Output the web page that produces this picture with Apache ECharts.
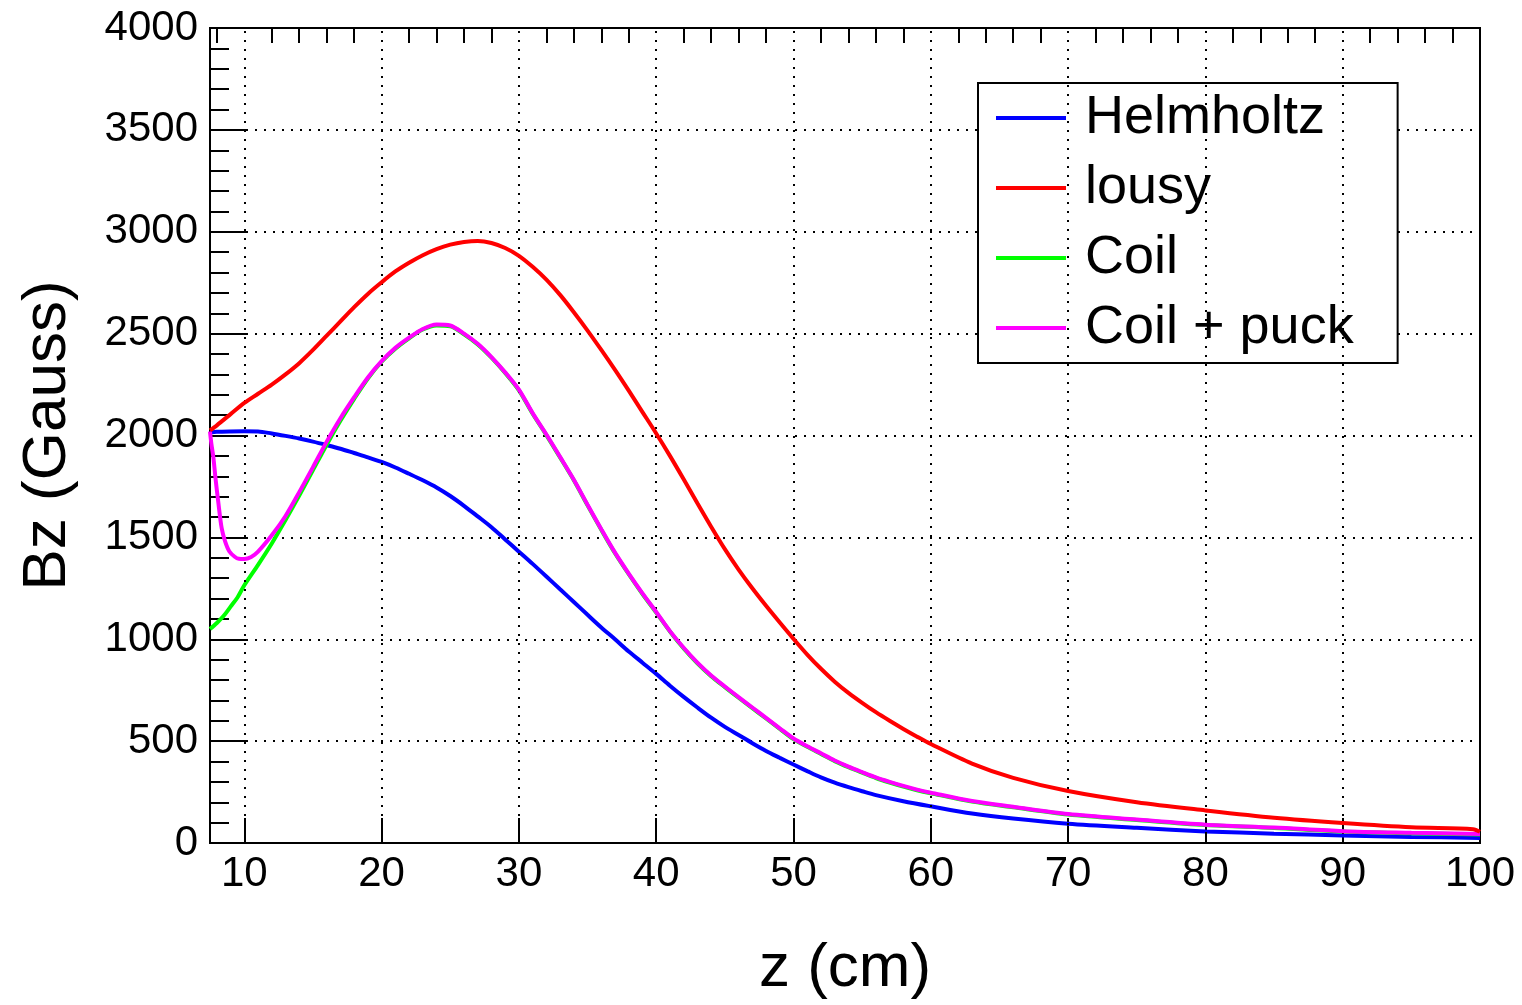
<!DOCTYPE html>
<html>
<head>
<meta charset="utf-8">
<script src="https://cdn.jsdelivr.net/npm/echarts@6/dist/echarts.min.js"></script>
<style>
html,body{margin:0;padding:0;background:#fff;}
#chart{width:1522px;height:1005px;}
</style>
</head>
<body>
<div id="chart"></div>
<script>
// ---- data ----
const seriesNames = ['Helmholtz', 'lousy', 'Coil', 'Coil + puck'];

const zHelm = [7.5, 8, 9, 10, 11, 12, 13, 14, 15, 16, 17, 18, 19, 20, 21, 22, 23, 24, 25, 26, 27, 28, 29, 30, 31, 32, 33, 34, 35, 36, 37, 38, 39, 40, 41, 42, 43, 44, 45, 46, 47, 48, 49, 50, 51, 52, 53, 54, 55, 56, 58, 60, 63, 66, 70, 75, 80, 85, 90, 95, 100];
const bzHelm = [2015, 2018, 2020, 2021, 2020, 2010, 1998, 1985, 1970, 1953, 1935, 1914, 1893, 1870, 1843, 1812, 1780, 1745, 1703, 1655, 1603, 1550, 1490, 1430, 1370, 1308, 1245, 1183, 1120, 1058, 1000, 940, 885, 830, 772, 717, 665, 615, 570, 530, 490, 452, 418, 385, 353, 322, 296, 274, 254, 235, 205, 180, 145, 120, 95, 75, 57, 46, 37, 30, 25];

const zLousy = [7.5, 8, 9, 10, 11, 12, 13, 14, 15, 16, 17, 18, 19, 20, 21, 22, 23, 24, 25, 26, 27, 28, 29, 30, 31, 32, 33, 34, 35, 36, 37, 38, 39, 40, 41, 42, 43, 44, 45, 46, 47, 48, 49, 50, 51, 52, 53, 54, 55, 56, 57, 58, 59, 60, 63, 66, 70, 75, 80, 85, 90, 95, 99.5, 100];
const bzLousy = [2025, 2050, 2105, 2160, 2205, 2250, 2300, 2355, 2420, 2490, 2560, 2630, 2695, 2752, 2805, 2848, 2885, 2915, 2937, 2950, 2955, 2945, 2920, 2882, 2828, 2765, 2690, 2605, 2515, 2420, 2322, 2220, 2115, 2010, 1900, 1785, 1667, 1552, 1442, 1342, 1250, 1164, 1082, 1002, 925, 855, 792, 737, 688, 642, 600, 560, 522, 486, 390, 320, 255, 200, 160, 124, 98, 77, 68, 55];

const zCoil = [7.5, 8, 8.5, 9, 9.5, 10, 11, 12, 13, 14, 15, 16, 17, 18, 19, 20, 21, 22, 23, 24, 25, 26, 27, 28, 29, 30, 31, 32, 33, 34, 35, 36, 37, 38, 39, 40, 41, 42, 43, 44, 45, 46, 47, 48, 49, 50, 51, 52, 53, 54, 55, 56, 57, 58, 59, 60, 63, 66, 70, 75, 80, 85, 90, 95, 100];
const bzCoil = [1050, 1080, 1115, 1160, 1205, 1265, 1365, 1470, 1585, 1705, 1830, 1955, 2072, 2180, 2280, 2362, 2426, 2477, 2520, 2540, 2536, 2497, 2447, 2382, 2307, 2222, 2107, 2002, 1892, 1780, 1657, 1537, 1422, 1319, 1222, 1131, 1038, 955, 882, 819, 765, 713, 662, 611, 560, 510, 472, 437, 402, 372, 345, 319, 297, 277, 259, 244, 203, 175, 140, 113, 88, 74, 56, 48, 42];

const zPuck = [7.5, 7.6, 7.75, 7.9, 8.1, 8.35, 8.6, 8.9, 9.3, 9.6, 10, 10.5, 11, 12, 13, 14, 15, 16, 17, 18, 19, 20, 21, 22, 23, 24, 25, 26, 27, 28, 29, 30, 31, 32, 33, 34, 35, 36, 37, 38, 39, 40, 41, 42, 43, 44, 45, 46, 47, 48, 49, 50, 51, 52, 53, 54, 55, 56, 57, 58, 59, 60, 63, 66, 70, 75, 80, 85, 90, 95, 100];
const bzPuck = [2020, 1960, 1890, 1790, 1675, 1545, 1480, 1432, 1405, 1395, 1394, 1404, 1430, 1510, 1605, 1722, 1845, 1970, 2085, 2188, 2285, 2365, 2430, 2480, 2523, 2545, 2540, 2500, 2450, 2385, 2310, 2225, 2110, 2005, 1895, 1783, 1660, 1540, 1425, 1322, 1225, 1134, 1040, 958, 885, 822, 768, 716, 665, 614, 563, 513, 475, 440, 405, 375, 348, 322, 300, 280, 262, 247, 206, 178, 142, 115, 90, 76, 58, 50, 44];

const xMajorTicks = [10, 20, 30, 40, 50, 60, 70, 80, 90, 100];
const xMinorTicks = [8, 12, 14, 16, 18, 22, 24, 26, 28, 32, 34, 36, 38, 42, 44, 46, 48, 52, 54, 56, 58, 62, 64, 66, 68, 72, 74, 76, 78, 82, 84, 86, 88, 92, 94, 96, 98];
const xGridLines = [10, 20, 30, 40, 50, 60, 70, 80, 90];

const colors = ['#0000ff', '#ff0000', '#00ff00', '#ff00ff'];
const FONT = 'Liberation Sans, Arial, Helvetica, sans-serif';

function pairs(xs, ys) { return xs.map((x, i) => [x, ys[i]]); }

const chart = echarts.init(document.getElementById('chart'), null, {renderer: 'canvas'});

const lineSeries = [
  {name: seriesNames[0], data: pairs(zHelm, bzHelm), color: colors[0], z: 3},
  {name: seriesNames[1], data: pairs(zLousy, bzLousy), color: colors[1], z: 6},
  {name: seriesNames[2], data: pairs(zCoil, bzCoil), color: colors[2], z: 4},
  {name: seriesNames[3], data: pairs(zPuck, bzPuck), color: colors[3], z: 5}
].map(s => ({
  name: s.name,
  type: 'line',
  xAxisIndex: 0,
  yAxisIndex: 0,
  data: s.data,
  showSymbol: false,
  symbol: 'none',
  smooth: 0.3,
  z: s.z,
  itemStyle: {color: s.color},
  lineStyle: {color: s.color, width: 4},
  animation: false
}));

const gridDummy = {
  name: '_grid',
  type: 'line',
  xAxisIndex: 0,
  yAxisIndex: 0,
  data: [],
  z: 1,
  silent: true,
  animation: false,
  markLine: {
    silent: true,
    symbol: 'none',
    label: {show: false},
    lineStyle: {color: '#000', type: [2, 7], width: 2},
    data: xGridLines.map(v => ({xAxis: v})),
    animation: false
  }
};

const option = {
  backgroundColor: '#fff',
  animation: false,
  grid: {
    left: 210, right: 42, top: 28, bottom: 161,
    show: true, borderColor: '#000', borderWidth: 2, backgroundColor: 'transparent'
  },
  legend: {
    data: seriesNames,
    orient: 'vertical',
    left: 978, top: 83,
    icon: 'rect',
    itemWidth: 70, itemHeight: 4,
    itemGap: 14,
    padding: [7, 44, 7, 18],
    borderColor: '#000', borderWidth: 2,
    backgroundColor: '#fff',
    selectedMode: false,
    textStyle: {fontFamily: FONT, fontSize: 54, lineHeight: 56, color: '#000', padding: [0, 0, 0, 14]}
  },
  xAxis: [
    {
      type: 'value', min: 7.5, max: 100,
      name: 'z (cm)', nameLocation: 'middle', nameGap: 95,
      nameTextStyle: {fontFamily: FONT, fontSize: 62, color: '#000'},
      axisLine: {show: true, onZero: false, lineStyle: {color: '#000', width: 2}},
      axisTick: {show: true, inside: true, length: 25, customValues: xMajorTicks, lineStyle: {color: '#000', width: 2}},
      axisLabel: {show: true, customValues: xMajorTicks, margin: 10, fontFamily: FONT, fontSize: 42, color: '#000',
                  formatter: v => String(v)},
      splitLine: {show: false}
    },
    {
      type: 'value', min: 7.5, max: 100,
      axisLine: {show: false, onZero: false},
      axisTick: {show: true, inside: true, length: 15, customValues: xMinorTicks, lineStyle: {color: '#000', width: 2}},
      axisLabel: {show: false},
      splitLine: {show: false}
    }
  ],
  yAxis: [
    {
      type: 'value', min: 0, max: 4000, interval: 500,
      name: 'Bz (Gauss)', nameLocation: 'middle', nameGap: 131, nameRotate: 90,
      nameTextStyle: {fontFamily: FONT, fontSize: 62, color: '#000'},
      axisLine: {show: true, onZero: false, lineStyle: {color: '#000', width: 2}},
      axisTick: {show: true, inside: true, length: 38, lineStyle: {color: '#000', width: 2}},
      minorTick: {show: true, splitNumber: 5, length: 19, lineStyle: {color: '#000', width: 2}},
      axisLabel: {margin: 12, fontFamily: FONT, fontSize: 42, color: '#000', formatter: v => String(v)},
      splitLine: {show: true, lineStyle: {color: '#000', type: [2, 7], width: 2}}
    }
  ],
  series: [gridDummy].concat(lineSeries)
};

chart.setOption(option);
</script>
</body>
</html>
